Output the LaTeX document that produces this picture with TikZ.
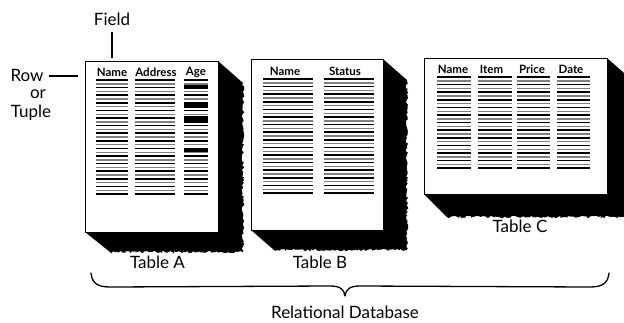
\documentclass[tikz,border=0pt]{standalone}
\usepackage{fontspec}
\setmainfont{Lato}
\usetikzlibrary{decorations.pathmorphing}

% record lines of one column: x-from, x-to, y-from, number of lines
\newcommand\collines[4]{%
  \foreach \i in {1,...,#4}{%
    \pgfmathsetmacro\yy{#3+(\i-1)*3.8}%
    \ifodd\i
      \draw[recline] (#1,\yy) -- (#2,\yy);
    \else
      \draw[recline2] (#1,\yy) -- (#2,\yy);
    \fi
  }%
}

\tikzset{
  page/.style={fill=white,draw=black,line width=1pt},
  shadowfill/.style={fill=black},
  rough/.style={decorate,decoration={random steps,segment length=1.6pt,amplitude=1.3pt}},
  recline/.style={black,line width=1.6pt},
  recline2/.style={black!50,line width=1.4pt},
  bar/.style={black,line width=3.2pt},
  head/.style={font=\bfseries\fontsize{11.5}{12}\selectfont,inner sep=0pt},
  lbl/.style={font=\fontsize{17}{18}\selectfont,inner sep=0pt},
  brace/.style={line width=1.3pt,line cap=round,line join=round}
}

\begin{document}
\begin{tikzpicture}[x=1pt,y=-1pt]
\useasboundingbox (0,0) rectangle (624,322);
\begin{scope}
\clip (0,0) rectangle (624,322);

% ---------- Table A ----------
\fill[shadowfill] (218,61) -- (243,83) decorate[rough]{-- (243,252) -- (110,252)} -- (85,232) -- cycle;
\draw[page] (85,61) rectangle (218,232);
\node[head] (a1) at (112,72) {Name};
\node[head] (a2) at (156,72) {Address};
\node[head] (a3) at (196,72) {Age};
\collines{96}{128}{80}{31}
\collines{135}{175}{80}{31}
\collines{184}{208}{80}{31}
\foreach \yy in {87,106,117.5,121,150}
  \draw[bar] (184,\yy) -- (208,\yy);

% ---------- Table B ----------
\fill[shadowfill] (383,59) -- (407,80) decorate[rough]{-- (407,250) -- (274,250)} -- (251,230) -- cycle;
\draw[page] (251,59) rectangle (383,230);
\node[head] (b1) at (285,71) {Name};
\node[head] (b2) at (345,71) {Status};
\collines{263}{313}{79}{31}
\collines{324}{374}{79}{31}

% ---------- Table C ----------
\fill[shadowfill] (607,58) -- (632,80) decorate[rough]{-- (632,217) -- (447,217)} -- (424,194) -- cycle;
\draw[page] (424,58) rectangle (607,194);
\node[head] (c1) at (453,69) {Name};
\node[head] (c2) at (491.5,69) {Item};
\node[head] (c3) at (532,69) {Price};
\node[head] (c4) at (571,69) {Date};
\collines{437}{471}{77}{25}
\collines{478}{512}{77}{25}
\collines{517}{550}{77}{25}
\collines{557}{590}{77}{25}
\end{scope}

% ---------- labels ----------
\node[lbl] (ta) at (157.5,262) {Table A};
\node[lbl] (tb) at (320,262) {Table B};
\node[lbl] (tc) at (520,226) {Table C};

\node[lbl] (field) at (112,19) {Field};
\coordinate (fieldtop) at (112,32);
\coordinate (fieldtip) at (112,58);
\draw[line width=1.3pt] (fieldtop) -- (fieldtip);

\node[lbl] (row) at (27,75) {Row};
\node[lbl] (or) at (38,94) {or};
\node[lbl] (tuple) at (31,113) {Tuple};
\coordinate (rowstart) at (49,76);
\coordinate (rowtip) at (78,76);
\draw[line width=1.3pt] (rowstart) -- (rowtip);

% ---------- brace ----------
\coordinate (bl) at (91,273);
\coordinate (br) at (609,273);
\coordinate (btip) at (345,296);
\draw[brace] (bl) .. controls (92,282) and (96,287) .. (110,287)
  -- (330,286) .. controls (340,286) and (344,289) .. (btip)
  .. controls (346,289) and (350,286) .. (360,286)
  -- (590,287) .. controls (604,287) and (608,282) .. (br);
\node[lbl] (db) at (345,312) {Relational Database};
\end{tikzpicture}
\end{document}
